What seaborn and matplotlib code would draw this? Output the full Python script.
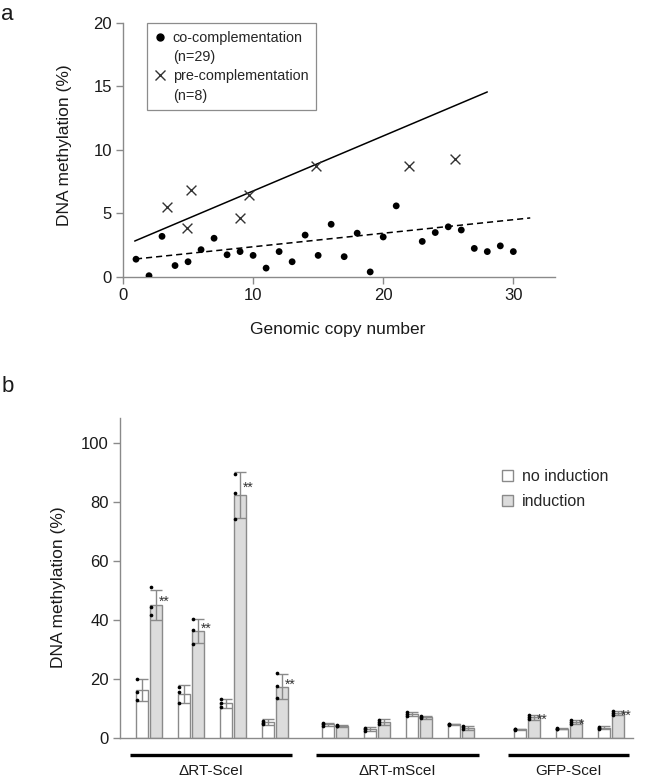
import numpy as np
import pandas as pd
import matplotlib
matplotlib.use("Agg")
import matplotlib.pyplot as plt
import matplotlib.transforms as mtrans
from matplotlib.lines import Line2D
from matplotlib.patches import Patch
import seaborn as sns

sns.set_style("ticks")
plt.rcParams['font.family'] = ['Liberation Sans', 'DejaVu Sans']

# ---- panel a data ----
co_copy = [1, 2, 3, 4, 5, 6, 7, 8, 9, 10, 11, 12, 13, 14, 15, 16, 17, 18, 19, 20, 21,
           23, 24, 25, 26, 27, 28, 29, 30]
co_meth = [1.4, 0.1, 3.2, 0.9, 1.2, 2.15, 3.05, 1.75, 2.0, 1.7, 0.7, 2.0, 1.2, 3.3, 1.7,
           4.15, 1.6, 3.45, 0.4, 3.15, 5.6, 2.8, 3.5, 3.95, 3.7, 2.25, 2.0, 2.45, 2.0]
pre_copy = [3.4, 4.9, 5.2, 9.0, 9.7, 14.8, 22.0, 25.5]
pre_meth = [5.5, 3.85, 6.87, 4.67, 6.48, 8.77, 8.77, 9.29]
# trend lines (end points)
co_fit_x = [1.0, 31.3]
co_fit_y = [1.42, 4.65]
pre_fit_x = [0.9, 28.0]
pre_fit_y = [2.83, 14.57]

# ---- panel b data ----
groups = ['ΔRT-SceI', 'ΔRT-mSceI', 'GFP-SceI']
n_pairs = [4, 4, 3]
conds = ['no induction', 'induction']
noind_mean = [16.2, 14.7, 11.6, 5.2, 4.5, 2.9, 8.0, 4.5, 2.8, 3.1, 3.3]
noind_sd = [3.7, 3.1, 1.4, 1.0, 0.5, 0.6, 0.8, 0.3, 0.3, 0.3, 0.5]
ind_mean = [45.1, 36.2, 82.4, 17.3, 4.0, 5.2, 7.0, 3.3, 6.9, 5.2, 8.4]
ind_sd = [5.0, 4.2, 7.8, 4.2, 0.3, 1.0, 0.5, 0.6, 0.8, 0.7, 0.8]
noind_reps = [[19.9, 15.6, 12.8], [17.1, 15.4, 11.9], [13.1, 11.9, 10.5], [5.8, 5.1, 4.5],
              [5.0, 4.5, 4.0], [3.4, 2.9, 2.4], [8.8, 8.1, 7.4], [4.8, 4.5, 4.2],
              [3.0, 2.8, 2.6], [3.3, 3.0, 2.8], [3.7, 3.2, 2.8]]
ind_reps = [[51.0, 44.3, 41.8], [40.2, 36.5, 31.8], [89.5, 83.2, 74.2], [21.9, 17.7, 13.5],
            [4.3, 4.0, 3.8], [6.1, 5.4, 4.5], [7.4, 7.0, 6.7], [3.9, 3.5, 3.0],
            [7.7, 7.0, 6.4], [6.1, 5.3, 4.6], [9.2, 8.5, 7.8]]
ind_sig = ['**', '**', '**', '**', '', '', '', '', '**', '*', '**']

edge = '#8a8a8a'
txt = '#1a1a1a'

fig = plt.figure(figsize=(6.49, 7.82), dpi=100)

# ================= panel a =================
axa = fig.add_axes([0.1895, 0.6458, 0.6656, 0.3248])
axa.plot(pre_fit_x, pre_fit_y, color='black', lw=1.1)
axa.plot(co_fit_x, co_fit_y, color='black', lw=1.1, dashes=(4, 2.6))
sns.scatterplot(x=co_copy, y=co_meth, color='black', s=24, edgecolor='none', ax=axa, zorder=3)
sns.scatterplot(x=pre_copy, y=pre_meth, marker='x', color='#333333', s=50, linewidth=1,
                ax=axa, zorder=3)
axa.set_xlim(0, 33.2)
axa.set_ylim(0, 20)
axa.set_xticks([0, 10, 20, 30])
axa.set_yticks([0, 5, 10, 15, 20])
axa.set_xlabel('Genomic copy number', fontsize=12.5, color=txt)
axa.set_ylabel('DNA methylation (%)', fontsize=12.5, color=txt)
axa.xaxis.set_label_coords(0.497, -0.176)
axa.yaxis.set_label_coords(-0.119, 0.52)

hs = [Line2D([], [], marker='o', ls='none', color='black', markersize=5),
      Line2D([], [], ls='none'),
      Line2D([], [], marker='x', ls='none', color='#333333', markersize=7.5, mew=1),
      Line2D([], [], ls='none')]
ls_ = ['co-complementation', '(n=29)', 'pre-complementation', '(n=8)']
leg = axa.legend(hs, ls_, loc='upper left', bbox_to_anchor=(0.055, 1.0), fontsize=10.4,
                 frameon=True, fancybox=False, edgecolor='#8c8c8c', framealpha=1,
                 handlelength=0.8, handletextpad=0.45, borderpad=0.55, labelspacing=0.36,
                 borderaxespad=0)
leg.get_frame().set_linewidth(0.9)

# ================= panel b =================
axb = fig.add_axes([0.1849, 0.0567, 0.7904, 0.4084])
group_start = [0, 4.43, 9.0]
pos = []
for g, n in enumerate(n_pairs):
    pos += [group_start[g] + i for i in range(n)]
pos = np.array(pos)

df = pd.DataFrame({
    'pos': np.concatenate([pos, pos]),
    'cond': [conds[0]] * len(pos) + [conds[1]] * len(pos),
    'value': noind_mean + ind_mean,
})
sns.barplot(data=df, x='pos', y='value', hue='cond', hue_order=conds, native_scale=True,
            palette={conds[0]: 'white', conds[1]: '#dcdcdc'}, saturation=1, width=0.66,
            gap=0.15, errorbar=None, edgecolor=edge, linewidth=1, legend=False, ax=axb)

off = 0.165
x_no = pos - off
x_in = pos + off
axb.errorbar(x_no, noind_mean, yerr=noind_sd, fmt='none', ecolor=edge, elinewidth=1,
             capsize=4, capthick=1, zorder=3)
axb.errorbar(x_in, ind_mean, yerr=ind_sd, fmt='none', ecolor=edge, elinewidth=1,
             capsize=4, capthick=1, zorder=3)
for i in range(len(pos)):
    axb.scatter([x_no[i] - 0.12] * 3, noind_reps[i], s=7, color='black', zorder=4, lw=0)
    axb.scatter([x_in[i] - 0.12] * 3, ind_reps[i], s=7, color='black', zorder=4, lw=0)
    if ind_sig[i]:
        axb.annotate(ind_sig[i], xy=(x_in[i], ind_mean[i] + ind_sd[i] / 2), xytext=(2, -5.7),
                     textcoords='offset points', ha='left', va='baseline', fontsize=10,
                     color='#333333')

axb.set_xlim(-0.683, 11.52)
axb.set_ylim(0, 108.4)
axb.set_yticks([0, 20, 40, 60, 80, 100])
axb.set_xticks([])
axb.set_xlabel('')
axb.set_ylabel('DNA methylation (%)', fontsize=12.5, color=txt)
axb.yaxis.set_label_coords(-0.105, 0.472)

# group underlines + names
trans = mtrans.blended_transform_factory(axb.transData, axb.transAxes)
k = 0
for g, n in enumerate(n_pairs):
    x0 = pos[k] - 0.45
    x1 = pos[k + n - 1] + 0.42
    axb.plot([x0, x1], [-0.054, -0.054], color='black', lw=2.4, transform=trans,
             clip_on=False, solid_capstyle='butt')
    axb.text((x0 + x1) / 2, -0.081, groups[g], transform=trans, ha='center', va='top',
             fontsize=11, color=txt)
    k += n

lh = [Patch(facecolor='white', edgecolor=edge, lw=1),
      Patch(facecolor='#dcdcdc', edgecolor=edge, lw=1)]
axb.legend(lh, conds, loc='upper left', bbox_to_anchor=(0.745, 0.84), frameon=False,
           fontsize=11.5, handlelength=0.65, handleheight=0.65, handletextpad=0.6,
           labelspacing=0.62, borderpad=0, borderaxespad=0)

for ax in (axa, axb):
    sns.despine(ax=ax)
    for s in ('left', 'bottom'):
        ax.spines[s].set_color(edge)
        ax.spines[s].set_linewidth(1)
    ax.tick_params(direction='out', length=5, width=1, color=edge, labelsize=12,
                   labelcolor=txt, pad=3)
axb.tick_params(axis='x', length=0)

fig.text(0.002, 1 - 20 / 782, 'a', fontsize=16, va='baseline', color=txt)
fig.text(0.002, 1 - 392 / 782, 'b', fontsize=16, va='baseline', color=txt)

fig.savefig('out.png', dpi=100)
